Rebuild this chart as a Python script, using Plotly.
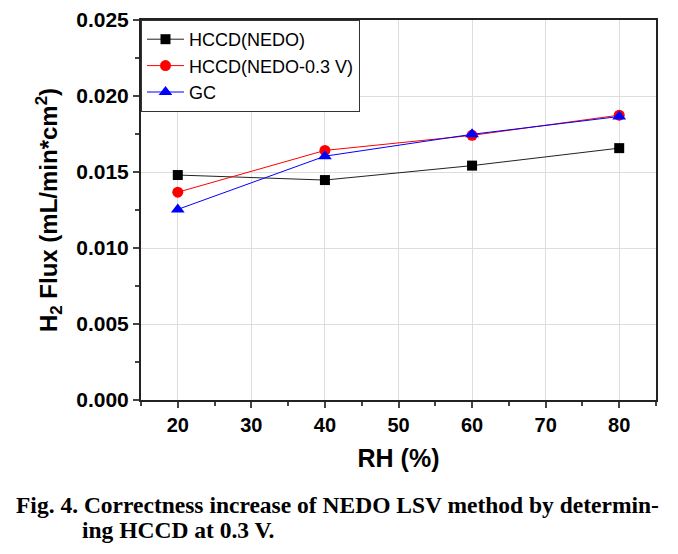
import plotly.graph_objects as go

rh = [20, 40, 60, 80]
hccd_nedo = [0.0148, 0.01447, 0.01542, 0.01657]
hccd_nedo_03v = [0.01367, 0.01642, 0.01741, 0.01874]
gc = [0.01254, 0.01604, 0.01748, 0.01865]

x_ticks = [20, 30, 40, 50, 60, 70, 80]
y_ticks = [0.000, 0.005, 0.010, 0.015, 0.020, 0.025]
y_tick_labels = ["0.000", "0.005", "0.010", "0.015", "0.020", "0.025"]

fig = go.Figure()
fig.add_trace(go.Scatter(x=rh, y=hccd_nedo, name="HCCD(NEDO)", mode="lines+markers",
                         line=dict(color="#222222", width=1),
                         marker=dict(symbol="square", size=10, color="black")))
fig.add_trace(go.Scatter(x=rh, y=hccd_nedo_03v, name="HCCD(NEDO-0.3 V)", mode="lines+markers",
                         line=dict(color="red", width=1),
                         marker=dict(symbol="circle", size=11, color="red")))
fig.add_trace(go.Scatter(x=rh, y=gc, name="GC", mode="lines+markers",
                         line=dict(color="blue", width=1),
                         marker=dict(symbol="triangle-up", size=12, color="blue")))

fig.update_layout(
    width=678, height=554,
    margin=dict(l=133, r=30, t=12, b=162, autoexpand=False),
    plot_bgcolor="white", paper_bgcolor="white",
    font=dict(family="Arial, Liberation Sans", color="black"),
    legend=dict(x=0, y=1, xanchor="left", yanchor="top",
                bgcolor="white", bordercolor="#333333", borderwidth=1,
                font=dict(size=18, family="Arial, Liberation Sans"),
                tracegroupgap=0, itemwidth=37),
    showlegend=True,
)
fig.update_xaxes(range=[15, 85], tickvals=x_ticks, ticks="outside", ticklen=6, tickwidth=1.5,
                 showline=True, linecolor="#222222", linewidth=2, mirror=True, automargin=False,
                 showgrid=True, gridcolor="#dddddd", gridwidth=1, zeroline=False,
                 tickfont=dict(size=20, family="Arial, Liberation Sans", weight="bold"),
                 minor=dict(tickvals=[15, 25, 35, 45, 55, 65, 75, 85], ticks="outside", ticklen=4, showgrid=False),
                 title=dict(text="RH (%)", font=dict(size=25, family="Arial, Liberation Sans", weight="bold"), standoff=14))
fig.update_yaxes(range=[0, 0.025], tickvals=y_ticks, ticktext=y_tick_labels, ticks="outside", ticklen=6, tickwidth=1.5,
                 showline=True, linecolor="#222222", linewidth=2, mirror=True, automargin=False,
                 showgrid=True, gridcolor="#dddddd", gridwidth=1, zeroline=False,
                 tickfont=dict(size=21, family="Arial, Liberation Sans", weight="bold"),
                 minor=dict(tickvals=[0.0025, 0.0075, 0.0125, 0.0175, 0.0225], ticks="outside", ticklen=4, showgrid=False),
                 title=dict(text="H<sub>2</sub> Flux (mL/min*cm<sup>2</sup>)", font=dict(size=24, family="Arial, Liberation Sans", weight="bold"), standoff=12))

fig.add_annotation(text="<b>Fig. 4. Correctness increase of NEDO LSV method by determin-</b>",
                   xref="paper", yref="paper", x=-0.247, y=-0.276, xanchor="left", yanchor="middle",
                   showarrow=False, font=dict(family="Liberation Serif, Times New Roman", size=23.5))
fig.add_annotation(text="<b>ing HCCD at 0.3 V.</b>",
                   xref="paper", yref="paper", x=-0.118, y=-0.342, xanchor="left", yanchor="middle",
                   showarrow=False, font=dict(family="Liberation Serif, Times New Roman", size=23.5))

fig.write_html("out.html")
